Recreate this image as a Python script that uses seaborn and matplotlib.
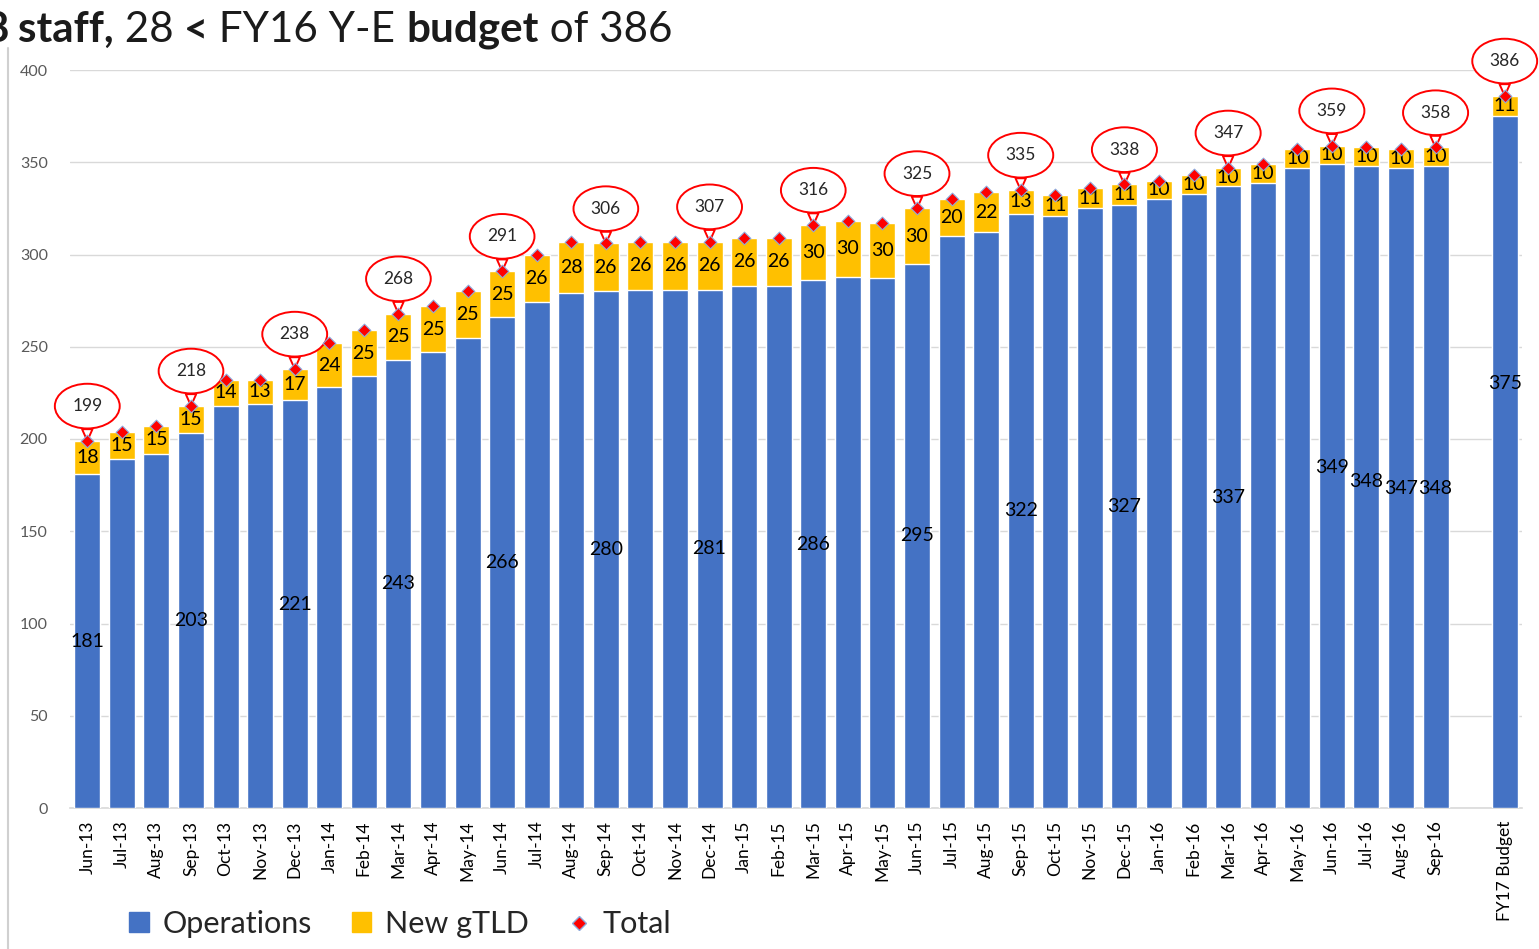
import numpy as np
import pandas as pd
import matplotlib.pyplot as plt
import seaborn as sns
from matplotlib.patches import Patch
from matplotlib.lines import Line2D

# monthly headcount, Jun-13 .. Sep-16, then a blank slot and the FY17 budget
months = ['Jun-13', 'Jul-13', 'Aug-13', 'Sep-13', 'Oct-13', 'Nov-13', 'Dec-13',
          'Jan-14', 'Feb-14', 'Mar-14', 'Apr-14', 'May-14', 'Jun-14', 'Jul-14',
          'Aug-14', 'Sep-14', 'Oct-14', 'Nov-14', 'Dec-14', 'Jan-15', 'Feb-15',
          'Mar-15', 'Apr-15', 'May-15', 'Jun-15', 'Jul-15', 'Aug-15', 'Sep-15',
          'Oct-15', 'Nov-15', 'Dec-15', 'Jan-16', 'Feb-16', 'Mar-16', 'Apr-16',
          'May-16', 'Jun-16', 'Jul-16', 'Aug-16', 'Sep-16', ' ', 'FY17 Budget']
operations = [181, 189, 192, 203, 218, 219, 221, 228, 234, 243, 247, 255, 266, 274,
              279, 280, 281, 281, 281, 283, 283, 286, 288, 287, 295, 310, 312, 322,
              321, 325, 327, 330, 333, 337, 339, 347, 349, 348, 347, 348, np.nan, 375]
new_gtld = [18, 15, 15, 15, 14, 13, 17, 24, 25, 25, 25, 25, 25, 26,
            28, 26, 26, 26, 26, 26, 26, 30, 30, 30, 30, 20, 22, 13,
            11, 11, 11, 10, 10, 10, 10, 10, 10, 10, 10, 10, np.nan, 11]

# which bars get an operations label / a total callout
ops_labelled = ['Jun-13', 'Sep-13', 'Dec-13', 'Mar-14', 'Jun-14', 'Sep-14', 'Dec-14',
                'Mar-15', 'Jun-15', 'Sep-15', 'Dec-15', 'Mar-16', 'Jun-16', 'Jul-16',
                'Aug-16', 'Sep-16', 'FY17 Budget']
total_callouts = ['Jun-13', 'Sep-13', 'Dec-13', 'Mar-14', 'Jun-14', 'Sep-14', 'Dec-14',
                  'Mar-15', 'Jun-15', 'Sep-15', 'Dec-15', 'Mar-16', 'Jun-16', 'Sep-16',
                  'FY17 Budget']

df = pd.DataFrame({'month': months, 'ops': operations, 'gtld': new_gtld})
df['total'] = df['ops'] + df['gtld']

BLUE = '#4472C4'
GOLD = '#FFC000'
RED = '#FF0000'

sns.set_theme(style='white')
plt.rcParams['font.family'] = ['Lato', 'DejaVu Sans']

W, H = 1539, 949
fig = plt.figure(figsize=(W / 100, H / 100), dpi=100)
ax = fig.add_axes([70 / W, (H - 808) / H, (1522 - 70) / W, (808 - 70) / H])

# stacked look: total in gold, operations drawn on top in blue
sns.barplot(data=df, x='month', y='total', order=months, color=GOLD,
            width=0.75, saturation=1, ax=ax, zorder=2)
sns.barplot(data=df, x='month', y='ops', order=months, color=BLUE,
            width=0.75, saturation=1, ax=ax, zorder=3)

pos = {m: i for i, m in enumerate(months)}
valid = df.dropna()
ax.scatter([pos[m] for m in valid['month']], valid['total'], marker='D', s=42,
           color=RED, edgecolor='#8EA9DB', linewidth=0.8, zorder=7)

# operations labels (the last few were nudged by hand in the original)
ops_label_y = {'Jun-16': 184.8, 'Jul-16': 176.7, 'Aug-16': 173.4,
               'Sep-16': 173.4, 'FY17 Budget': 230}
for _, r in valid.iterrows():
    i = pos[r['month']]
    if r['month'] in ops_labelled:
        y = ops_label_y.get(r['month'], r['ops'] / 2)
        ax.text(i, y, f"{int(r['ops'])}", ha='center', va='center',
                fontsize=14, color='black', zorder=6)
    ax.text(i, r['ops'] + r['gtld'] / 2, f"{int(r['gtld'])}", ha='center',
            va='center', fontsize=14, color='black', zorder=6)
    if r['month'] in total_callouts:
        ax.annotate(f"{int(r['total'])}", xy=(i, r['total']), xytext=(0, 25),
                    textcoords='offset points', ha='center', va='center',
                    fontsize=12.5, color='#262626', zorder=5,
                    bbox=dict(boxstyle='ellipse,pad=0.45', fc='white', ec=RED, lw=1.4),
                    arrowprops=dict(arrowstyle='wedge,tail_width=0.6', fc='white',
                                    ec=RED, lw=1.4, shrinkA=0, shrinkB=0))

ax.set_xlim(-0.5, len(months) - 0.5)
ax.set_ylim(0, 400)
ax.set_yticks(range(0, 401, 50))
ax.yaxis.grid(True, color='#D9D9D9', lw=1)
ax.set_axisbelow(True)
for s in ['top', 'right', 'left']:
    ax.spines[s].set_visible(False)
ax.spines['bottom'].set_color('#D9D9D9')
ax.spines['bottom'].set_linewidth(1.2)
ax.set_xlabel('')
ax.set_ylabel('')
ax.tick_params(axis='y', length=0, pad=16, labelsize=11.5, labelcolor='#595959')
ax.tick_params(axis='x', length=0, pad=9, labelsize=12.5, labelcolor='black')
ax.set_xticks(range(len(months)))
ax.set_xticklabels(months, rotation=90)

# legend
handles = [Patch(color=BLUE, label='Operations'),
           Patch(color=GOLD, label='New gTLD'),
           Line2D([], [], marker='D', ls='none', color=RED, markeredgecolor='#8EA9DB',
                  markersize=7, label='Total')]
fig.legend(handles=handles, loc='center', bbox_to_anchor=(400 / W, 1 - 924 / H),
           ncol=3, frameon=False, fontsize=22, handlelength=0.65, handleheight=0.65,
           handletextpad=0.45, columnspacing=1.3, labelcolor='#262626')

# slide title (cut off at the left edge, as in the source slide)
tcol = '#1B1B1B'
tsize = 30.3
fig.text(9 / W, 1 - 42 / H, '8', ha='right', va='baseline', fontsize=tsize,
         fontweight='bold', color=tcol)
prev = fig.text(18 / W, 1 - 42 / H, 'staff,', ha='left', va='baseline',
                fontsize=tsize, fontweight='bold', color=tcol)
for txt, wt in [(' 28 ', 'normal'), ('<', 'bold'), (' FY16 Y-E ', 'normal'),
                ('budget', 'bold'), (' of 386', 'normal')]:
    prev = ax.annotate(txt, xycoords=prev, xy=(1, 0), va='bottom', ha='left',
                       fontsize=tsize, fontweight=wt, color=tcol,
                       annotation_clip=False)

fig.add_artist(Line2D([8 / W, 8 / W], [0, 1 - 48 / H], color='#D0D0D0', lw=1.5))

fig.savefig('out.png', dpi=100)
